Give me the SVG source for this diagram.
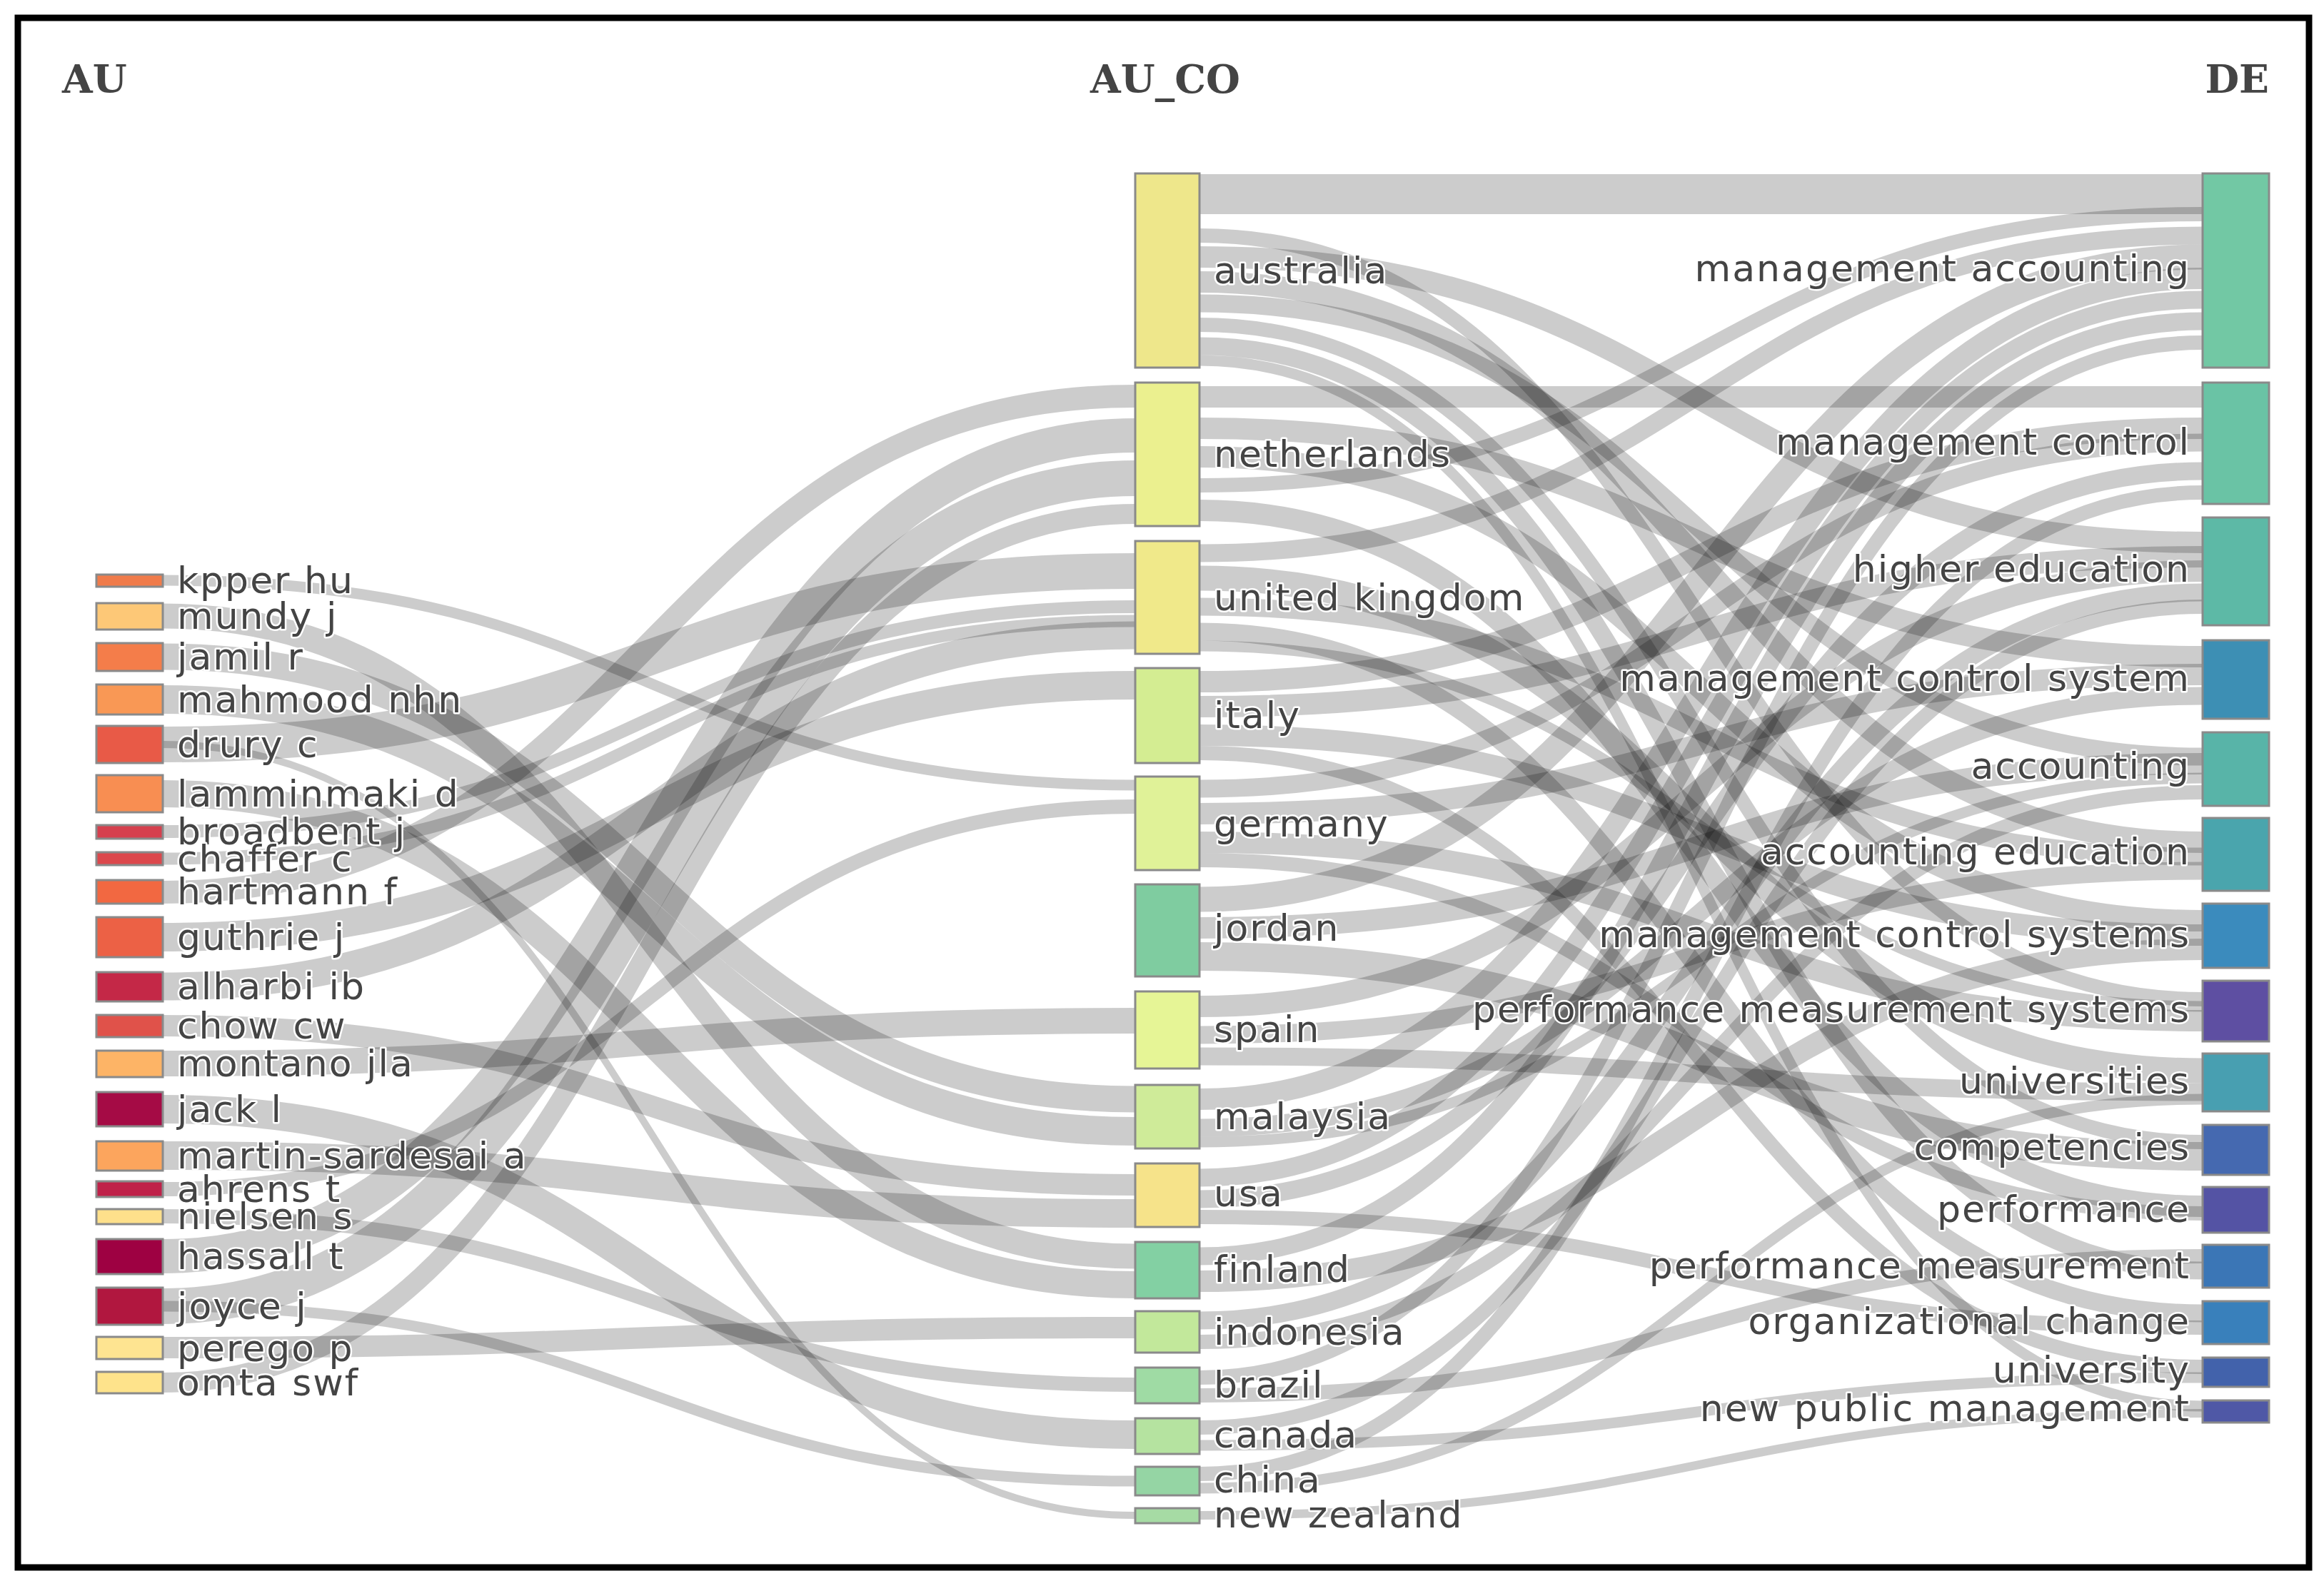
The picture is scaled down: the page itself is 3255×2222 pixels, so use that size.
<svg xmlns="http://www.w3.org/2000/svg" width="3255" height="2222" viewBox="0 0 3255 2222">
<style>
.lk path{fill:none;stroke:rgba(0,0,0,0.2)}
.n rect{stroke:#8a8a8a;stroke-width:3}
.t{font-family:"DejaVu Sans",Verdana,sans-serif;font-size:52px;letter-spacing:2px;fill:#444;stroke:#fff;stroke-width:5;paint-order:stroke;stroke-linejoin:round}
.r{text-anchor:end}
.h{font-family:"DejaVu Serif","Liberation Serif",serif;font-weight:bold;font-size:55px;fill:#444}
</style>
<rect x="0" y="0" width="3255" height="2222" fill="#fff"/>
<rect x="25" y="25" width="3209" height="2171" fill="none" stroke="#000" stroke-width="9"/>
<text class="h" x="87" y="130">AU</text>
<text class="h" x="1632" y="130" text-anchor="middle">AU_CO</text>
<text class="h" x="3178" y="130" text-anchor="end">DE</text>
<g class="lk" id="links">
<path d="M228 813 C909 813 909 1100 1590 1100" stroke-width="15"/>
<path d="M228 863 C909 863 909 1760 1590 1760" stroke-width="35"/>
<path d="M228 920 C909 920 909 1540 1590 1540" stroke-width="37"/>
<path d="M228 980 C909 980 909 1585 1590 1585" stroke-width="40"/>
<path d="M228 1043 C909 1043 909 800 1590 800" stroke-width="50"/>
<path d="M228 1112 C909 1112 909 1800 1590 1800" stroke-width="38"/>
<path d="M228 1165 C909 1165 909 850 1590 850" stroke-width="18"/>
<path d="M228 1203 C909 1203 909 870 1590 870" stroke-width="17"/>
<path d="M228 1250 C909 1250 909 555 1590 555" stroke-width="32"/>
<path d="M228 1313 C909 1313 909 960 1590 960" stroke-width="40"/>
<path d="M228 1382 C909 1382 909 890 1590 890" stroke-width="39"/>
<path d="M228 1437 C909 1437 909 1660 1590 1660" stroke-width="30"/>
<path d="M228 1490 C909 1490 909 1430 1590 1430" stroke-width="36"/>
<path d="M228 1554 C909 1554 909 2010 1590 2010" stroke-width="40"/>
<path d="M228 1619 C909 1619 909 1700 1590 1700" stroke-width="40"/>
<path d="M228 1666 C909 1666 909 1130 1590 1130" stroke-width="20"/>
<path d="M228 1704 C909 1704 909 1940 1590 1940" stroke-width="20"/>
<path d="M228 1760 C909 1760 909 610 1590 610" stroke-width="48"/>
<path d="M228 1830 C909 1830 909 670 1590 670" stroke-width="50"/>
<path d="M228 1888 C909 1888 909 1860 1590 1860" stroke-width="30"/>
<path d="M228 1937 C909 1937 909 720 1590 720" stroke-width="28"/>
<path d="M228 1830 C909 1830 909 2075 1590 2075" stroke-width="15"/>
<path d="M228 1043 C909 1043 909 2123 1590 2123" stroke-width="10"/>
<path d="M1680 272 C2382 272 2382 272 3085 272" stroke-width="56"/>
<path d="M1680 330 C2382 330 2382 1400 3085 1400" stroke-width="20"/>
<path d="M1680 360 C2382 360 2382 760 3085 760" stroke-width="30"/>
<path d="M1680 395 C2382 395 2382 1180 3085 1180" stroke-width="30"/>
<path d="M1680 425 C2382 425 2382 1060 3085 1060" stroke-width="25"/>
<path d="M1680 455 C2382 455 2382 1600 3085 1600" stroke-width="20"/>
<path d="M1680 485 C2382 485 2382 1780 3085 1780" stroke-width="25"/>
<path d="M1680 505 C2382 505 2382 1970 3085 1970" stroke-width="15"/>
<path d="M1680 556 C2382 556 2382 556 3085 556" stroke-width="30"/>
<path d="M1680 600 C2382 600 2382 920 3085 920" stroke-width="30"/>
<path d="M1680 640 C2382 640 2382 1290 3085 1290" stroke-width="30"/>
<path d="M1680 680 C2382 680 2382 300 3085 300" stroke-width="20"/>
<path d="M1680 715 C2382 715 2382 1690 3085 1690" stroke-width="30"/>
<path d="M1680 775 C2382 775 2382 330 3085 330" stroke-width="25"/>
<path d="M1680 810 C2382 810 2382 1500 3085 1500" stroke-width="35"/>
<path d="M1680 850 C2382 850 2382 1200 3085 1200" stroke-width="25"/>
<path d="M1680 885 C2382 885 2382 1840 3085 1840" stroke-width="25"/>
<path d="M1680 905 C2382 905 2382 1410 3085 1410" stroke-width="15"/>
<path d="M1680 955 C2382 955 2382 600 3085 600" stroke-width="30"/>
<path d="M1680 990 C2382 990 2382 780 3085 780" stroke-width="30"/>
<path d="M1680 1030 C2382 1030 2382 1310 3085 1310" stroke-width="30"/>
<path d="M1680 1055 C2382 1055 2382 1915 3085 1915" stroke-width="20"/>
<path d="M1680 1105 C2382 1105 2382 620 3085 620" stroke-width="25"/>
<path d="M1680 1140 C2382 1140 2382 945 3085 945" stroke-width="30"/>
<path d="M1680 1180 C2382 1180 2382 1430 3085 1430" stroke-width="30"/>
<path d="M1680 1205 C2382 1205 2382 1700 3085 1700" stroke-width="20"/>
<path d="M1680 1260 C2382 1260 2382 360 3085 360" stroke-width="35"/>
<path d="M1680 1300 C2382 1300 2382 1070 3085 1070" stroke-width="30"/>
<path d="M1680 1340 C2382 1340 2382 1620 3085 1620" stroke-width="40"/>
<path d="M1680 1410 C2382 1410 2382 800 3085 800" stroke-width="30"/>
<path d="M1680 1450 C2382 1450 2382 1220 3085 1220" stroke-width="25"/>
<path d="M1680 1480 C2382 1480 2382 1530 3085 1530" stroke-width="25"/>
<path d="M1680 1540 C2382 1540 2382 390 3085 390" stroke-width="30"/>
<path d="M1680 1580 C2382 1580 2382 975 3085 975" stroke-width="25"/>
<path d="M1680 1600 C2382 1600 2382 1090 3085 1090" stroke-width="15"/>
<path d="M1680 1650 C2382 1650 2382 420 3085 420" stroke-width="25"/>
<path d="M1680 1680 C2382 1680 2382 660 3085 660" stroke-width="25"/>
<path d="M1680 1705 C2382 1705 2382 1860 3085 1860" stroke-width="20"/>
<path d="M1680 1760 C2382 1760 2382 450 3085 450" stroke-width="25"/>
<path d="M1680 1795 C2382 1795 2382 1330 3085 1330" stroke-width="30"/>
<path d="M1680 1850 C2382 1850 2382 830 3085 830" stroke-width="25"/>
<path d="M1680 1880 C2382 1880 2382 1110 3085 1110" stroke-width="20"/>
<path d="M1680 1930 C2382 1930 2382 480 3085 480" stroke-width="20"/>
<path d="M1680 1955 C2382 1955 2382 1760 3085 1760" stroke-width="20"/>
<path d="M1680 2000 C2382 2000 2382 850 3085 850" stroke-width="20"/>
<path d="M1680 2025 C2382 2025 2382 1930 3085 1930" stroke-width="15"/>
<path d="M1680 2065 C2382 2065 2382 690 3085 690" stroke-width="20"/>
<path d="M1680 2085 C2382 2085 2382 1540 3085 1540" stroke-width="15"/>
<path d="M1680 2123 C2382 2123 2382 1980 3085 1980" stroke-width="12"/>
</g>
<g class="n">
<g id="au-kpper"><rect x="135" y="805" width="93" height="17" fill="#f07b4a"/><text class="t" x="248" y="831">kpper hu</text></g>
<g id="au-mundy"><rect x="135" y="845" width="93" height="37" fill="#fdc877"/><text class="t" x="248" y="881">mundy j</text></g>
<g id="au-jamil"><rect x="135" y="901" width="93" height="39" fill="#f47d4a"/><text class="t" x="248" y="938">jamil r</text></g>
<g id="au-mahmood"><rect x="135" y="959" width="93" height="42" fill="#f99855"/><text class="t" x="248" y="998">mahmood nhn</text></g>
<g id="au-drury"><rect x="135" y="1017" width="93" height="52" fill="#e85a47"/><text class="t" x="248" y="1061">drury c</text></g>
<g id="au-lamminmaki"><rect x="135" y="1086" width="93" height="52" fill="#f88e52"/><text class="t" x="248" y="1130">lamminmaki d</text></g>
<g id="au-broadbent"><rect x="135" y="1156" width="93" height="19" fill="#d6404e"/><text class="t" x="248" y="1183">broadbent j</text></g>
<g id="au-chaffer"><rect x="135" y="1194" width="93" height="18" fill="#dc484c"/><text class="t" x="248" y="1221">chaffer c</text></g>
<g id="au-hartmann"><rect x="135" y="1233" width="93" height="33" fill="#f26841"/><text class="t" x="248" y="1267">hartmann f</text></g>
<g id="au-guthrie"><rect x="135" y="1285" width="93" height="56" fill="#ec6145"/><text class="t" x="248" y="1331">guthrie j</text></g>
<g id="au-alharbi"><rect x="135" y="1362" width="93" height="41" fill="#c42847"/><text class="t" x="248" y="1400">alharbi ib</text></g>
<g id="au-chow"><rect x="135" y="1422" width="93" height="31" fill="#e0524a"/><text class="t" x="248" y="1455">chow cw</text></g>
<g id="au-montano"><rect x="135" y="1472" width="93" height="37" fill="#fdb466"/><text class="t" x="248" y="1508">montano jla</text></g>
<g id="au-jack"><rect x="135" y="1530" width="93" height="48" fill="#a50b45"/><text class="t" x="248" y="1572">jack l</text></g>
<g id="au-martin"><rect x="135" y="1599" width="93" height="41" fill="#fca55d"/><text class="t" x="248" y="1637">martin-sardesai a</text></g>
<g id="au-ahrens"><rect x="135" y="1655" width="93" height="22" fill="#bf2149"/><text class="t" x="248" y="1684">ahrens t</text></g>
<g id="au-nielsen"><rect x="135" y="1694" width="93" height="21" fill="#fee08b"/><text class="t" x="248" y="1722">nielsen s</text></g>
<g id="au-hassall"><rect x="135" y="1736" width="93" height="49" fill="#9e0142"/><text class="t" x="248" y="1778">hassall t</text></g>
<g id="au-joyce"><rect x="135" y="1804" width="93" height="52" fill="#b1173f"/><text class="t" x="248" y="1848">joyce j</text></g>
<g id="au-perego"><rect x="135" y="1873" width="93" height="31" fill="#fee491"/><text class="t" x="248" y="1907">perego p</text></g>
<g id="au-omta"><rect x="135" y="1922" width="93" height="30" fill="#fee38b"/><text class="t" x="248" y="1955">omta swf</text></g>

<g id="co-australia"><rect x="1590" y="243" width="90" height="272" fill="#eee78b"/><text class="t" x="1700" y="397">australia</text></g>
<g id="co-netherlands"><rect x="1590" y="536" width="90" height="201" fill="#ebf08f"/><text class="t" x="1700" y="654">netherlands</text></g>
<g id="co-uk"><rect x="1590" y="758" width="90" height="158" fill="#f0e98a"/><text class="t" x="1700" y="855">united kingdom</text></g>
<g id="co-italy"><rect x="1590" y="936" width="90" height="133" fill="#d4ed92"/><text class="t" x="1700" y="1020">italy</text></g>
<g id="co-germany"><rect x="1590" y="1088" width="90" height="131" fill="#e0f298"/><text class="t" x="1700" y="1172">germany</text></g>
<g id="co-jordan"><rect x="1590" y="1239" width="90" height="129" fill="#7fcca0"/><text class="t" x="1700" y="1318">jordan</text></g>
<g id="co-spain"><rect x="1590" y="1389" width="90" height="108" fill="#e6f596"/><text class="t" x="1700" y="1460">spain</text></g>
<g id="co-malaysia"><rect x="1590" y="1520" width="90" height="89" fill="#cfeb99"/><text class="t" x="1700" y="1582">malaysia</text></g>
<g id="co-usa"><rect x="1590" y="1630" width="90" height="89" fill="#f6e38a"/><text class="t" x="1700" y="1690">usa</text></g>
<g id="co-finland"><rect x="1590" y="1740" width="90" height="79" fill="#83d0a3"/><text class="t" x="1700" y="1796">finland</text></g>
<g id="co-indonesia"><rect x="1590" y="1837" width="90" height="58" fill="#c2e89b"/><text class="t" x="1700" y="1884">indonesia</text></g>
<g id="co-brazil"><rect x="1590" y="1916" width="90" height="50" fill="#9fdba4"/><text class="t" x="1700" y="1958">brazil</text></g>
<g id="co-canada"><rect x="1590" y="1987" width="90" height="50" fill="#b5e3a0"/><text class="t" x="1700" y="2028">canada</text></g>
<g id="co-china"><rect x="1590" y="2055" width="90" height="40" fill="#95d5a4"/><text class="t" x="1700" y="2091">china</text></g>
<g id="co-nz"><rect x="1590" y="2113" width="90" height="21" fill="#a6dba4"/><text class="t" x="1700" y="2140">new zealand</text></g>

<g id="de-ma"><rect x="3085" y="243" width="93" height="272" fill="#72c8a4"/><text class="t r" x="3068" y="394">management accounting</text></g>
<g id="de-mc"><rect x="3085" y="536" width="93" height="170" fill="#6ac3a5"/><text class="t r" x="3068" y="637">management control</text></g>
<g id="de-he"><rect x="3085" y="725" width="93" height="151" fill="#5db9a6"/><text class="t r" x="3068" y="815">higher education</text></g>
<g id="de-mcs"><rect x="3085" y="897" width="93" height="110" fill="#3d8fb4"/><text class="t r" x="3068" y="968">management control system</text></g>
<g id="de-acc"><rect x="3085" y="1026" width="93" height="103" fill="#58b4a8"/><text class="t r" x="3068" y="1091">accounting</text></g>
<g id="de-acced"><rect x="3085" y="1146" width="93" height="102" fill="#4aa5ad"/><text class="t r" x="3068" y="1211">accounting education</text></g>
<g id="de-mcss"><rect x="3085" y="1266" width="93" height="90" fill="#3b8bbd"/><text class="t r" x="3068" y="1327">management control systems</text></g>
<g id="de-pms"><rect x="3085" y="1374" width="93" height="85" fill="#5e4fa2"/><text class="t r" x="3068" y="1432">performance measurement systems</text></g>
<g id="de-univs"><rect x="3085" y="1476" width="93" height="81" fill="#489fb1"/><text class="t r" x="3068" y="1532">universities</text></g>
<g id="de-comp"><rect x="3085" y="1576" width="93" height="70" fill="#4569b0"/><text class="t r" x="3068" y="1625">competencies</text></g>
<g id="de-perf"><rect x="3085" y="1663" width="93" height="64" fill="#5453a4"/><text class="t r" x="3068" y="1712">performance</text></g>
<g id="de-pm"><rect x="3085" y="1744" width="93" height="60" fill="#3b76b6"/><text class="t r" x="3068" y="1791">performance measurement</text></g>
<g id="de-oc"><rect x="3085" y="1823" width="93" height="60" fill="#3980bb"/><text class="t r" x="3068" y="1869">organizational change</text></g>
<g id="de-univ"><rect x="3085" y="1902" width="93" height="41" fill="#4262ab"/><text class="t r" x="3068" y="1937">university</text></g>
<g id="de-npm"><rect x="3085" y="1962" width="93" height="31" fill="#4f58a6"/><text class="t r" x="3068" y="1991">new public management</text></g>
</g>
</svg>
